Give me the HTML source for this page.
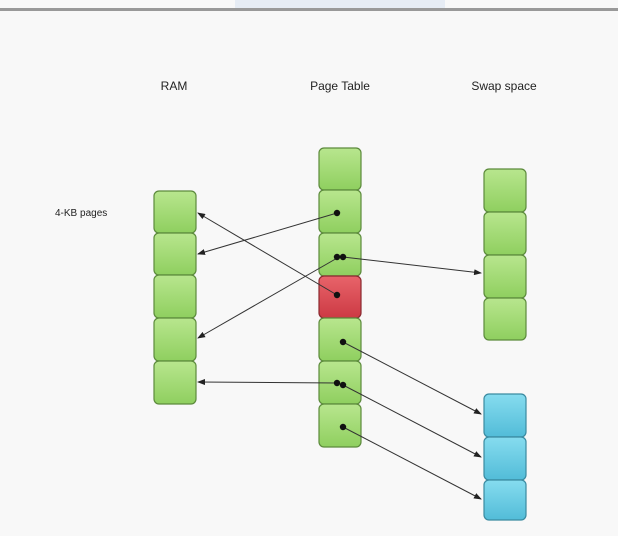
<!DOCTYPE html>
<html><head><style>
body{margin:0;width:618px;height:536px;background:#f8f8f8;overflow:hidden;font-family:"Liberation Sans",sans-serif;}
</style></head><body>
<svg width="618" height="536" xmlns="http://www.w3.org/2000/svg" style="position:absolute;left:0;top:0">
<defs>
<linearGradient id="g" x1="0" y1="0" x2="0" y2="1"><stop offset="0" stop-color="#b8e68e"/><stop offset="1" stop-color="#8fcf5f"/></linearGradient>
<linearGradient id="r" x1="0" y1="0" x2="0" y2="1"><stop offset="0" stop-color="#e8646a"/><stop offset="1" stop-color="#cc3a44"/></linearGradient>
<linearGradient id="b" x1="0" y1="0" x2="0" y2="1"><stop offset="0" stop-color="#86dcef"/><stop offset="1" stop-color="#52bcd8"/></linearGradient>
<marker id="a" markerWidth="8" markerHeight="6" refX="7" refY="3" orient="auto" markerUnits="userSpaceOnUse"><path d="M0,0 L8,3 L0,6z" fill="#222"/></marker>
</defs>
<rect x="235" y="0" width="210" height="9" fill="#e6ecf4"/>
<rect x="0" y="8" width="618" height="3" fill="#999"/>
<g font-size="12" fill="#222">
<text x="174" y="90" text-anchor="middle">RAM</text>
<text x="340" y="90" text-anchor="middle">Page Table</text>
<text x="504" y="90" text-anchor="middle">Swap space</text>
<text x="55" y="216" font-size="10">4-KB pages</text>
</g>
<g stroke="#5c8a3c" stroke-width="1.2">
<rect x="154" y="191" width="42" height="42" rx="5" fill="url(#g)"/>
<rect x="154" y="233" width="42" height="42" rx="5" fill="url(#g)"/>
<rect x="154" y="275" width="42" height="43" rx="5" fill="url(#g)"/>
<rect x="154" y="318" width="42" height="43" rx="5" fill="url(#g)"/>
<rect x="154" y="361" width="42" height="43" rx="5" fill="url(#g)"/>
<rect x="319" y="148" width="42" height="42" rx="5" fill="url(#g)"/>
<rect x="319" y="190" width="42" height="43" rx="5" fill="url(#g)"/>
<rect x="319" y="233" width="42" height="43" rx="5" fill="url(#g)"/>
<rect x="319" y="276" width="42" height="42" rx="5" fill="url(#r)" stroke="#8a2a30"/>
<rect x="319" y="318" width="42" height="43" rx="5" fill="url(#g)"/>
<rect x="319" y="361" width="42" height="43" rx="5" fill="url(#g)"/>
<rect x="319" y="404" width="42" height="43" rx="5" fill="url(#g)"/>
<rect x="484" y="169" width="42" height="43" rx="5" fill="url(#g)"/>
<rect x="484" y="212" width="42" height="43" rx="5" fill="url(#g)"/>
<rect x="484" y="255" width="42" height="43" rx="5" fill="url(#g)"/>
<rect x="484" y="298" width="42" height="42" rx="5" fill="url(#g)"/>
<rect x="484" y="394" width="42" height="43" rx="5" fill="url(#b)" stroke="#3a8aa0"/>
<rect x="484" y="437" width="42" height="43" rx="5" fill="url(#b)" stroke="#3a8aa0"/>
<rect x="484" y="480" width="42" height="40" rx="5" fill="url(#b)" stroke="#3a8aa0"/>
</g>
<g stroke="#333" stroke-width="1" fill="none" marker-end="url(#a)">
<path d="M337,213 L198,254"/>
<path d="M337,295 L198,213"/>
<path d="M339,257 L198,338"/>
<path d="M343,257 L481,273"/>
<path d="M337,383 L198,382"/>
<path d="M343,342 L481,414"/>
<path d="M343,385 L481,457"/>
<path d="M343,427 L481,499"/>
</g>
<g fill="#111">
<circle cx="337" cy="213" r="3.2"/><circle cx="337" cy="257" r="3.2"/><circle cx="343" cy="257" r="3.2"/>
<circle cx="337" cy="295" r="3.2"/><circle cx="343" cy="342" r="3.2"/><circle cx="337" cy="383" r="3.2"/>
<circle cx="343" cy="385" r="3.2"/><circle cx="343" cy="427" r="3.2"/>
</g>
</svg>
</body></html>
